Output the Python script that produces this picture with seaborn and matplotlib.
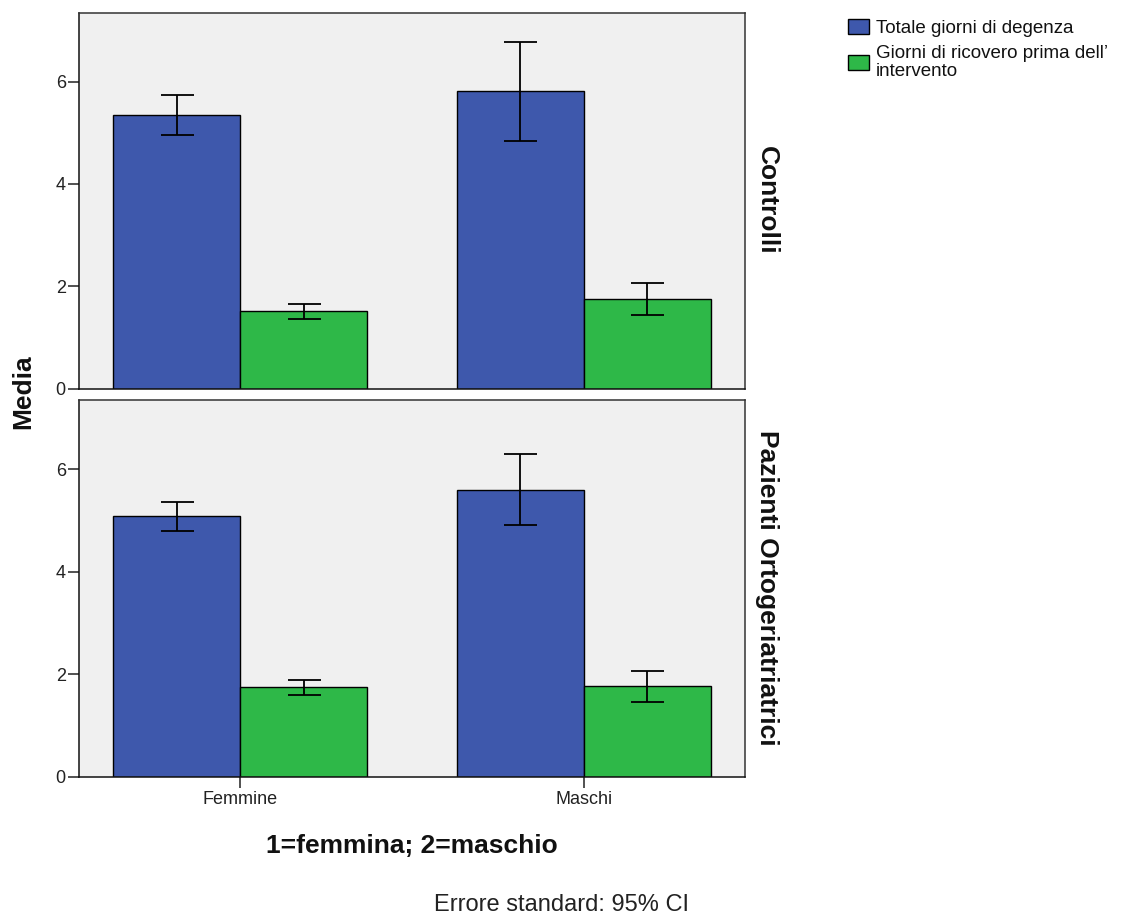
import numpy as np
import pandas as pd
import matplotlib
matplotlib.use("Agg")
import matplotlib.pyplot as plt
from matplotlib.patches import Patch
import seaborn as sns

# ---- data -------------------------------------------------------------
groups = ["Controlli", "Pazienti Ortogeriatriatrici"]
sexes = ["Femmine", "Maschi"]
measures = ["Totale giorni di degenza",
            "Giorni di ricovero prima dell\u2019\nintervento"]

# means per group, ordered as sexes
ctrl_total = [5.35, 5.82]
ctrl_pre = [1.52, 1.76]
orto_total = [5.08, 5.59]
orto_pre = [1.75, 1.76]

# 95% confidence interval bounds
ctrl_total_lo = [4.95, 4.85]
ctrl_total_hi = [5.74, 6.78]
ctrl_pre_lo = [1.36, 1.44]
ctrl_pre_hi = [1.65, 2.06]
orto_total_lo = [4.79, 4.90]
orto_total_hi = [5.36, 6.29]
orto_pre_lo = [1.59, 1.45]
orto_pre_hi = [1.88, 2.06]

y_ticks = [0, 2, 4, 6]

rows = []
series = {
    groups[0]: [(measures[0], ctrl_total, ctrl_total_lo, ctrl_total_hi),
                (measures[1], ctrl_pre, ctrl_pre_lo, ctrl_pre_hi)],
    groups[1]: [(measures[0], orto_total, orto_total_lo, orto_total_hi),
                (measures[1], orto_pre, orto_pre_lo, orto_pre_hi)],
}
for g, lst in series.items():
    for m, vals, lo, hi in lst:
        for s, v, l, h in zip(sexes, vals, lo, hi):
            rows.append(dict(gruppo=g, sesso=s, misura=m, media=v, lo=l, hi=h))
df = pd.DataFrame(rows)

# ---- style ------------------------------------------------------------
sns.set_theme(style="white")
plt.rcParams["font.family"] = ["Liberation Sans", "DejaVu Sans"]

palette = {measures[0]: "#3E58AC", measures[1]: "#2EB848"}
W, H = 1129, 914
fig = plt.figure(figsize=(W / 100, H / 100), dpi=100)
fig.patch.set_facecolor("white")

left = 79 / W
width = (745 - 79) / W
panels = [
    (1 - 388.5 / H, (388.5 - 12.7) / H),
    (1 - 776.5 / H, (776.5 - 400) / H),
]

for i, (g, (b, h)) in enumerate(zip(groups, panels)):
    ax = fig.add_axes([left, b, width, h])
    sub = df[df["gruppo"] == g]
    sns.barplot(data=sub, x="sesso", y="media", hue="misura",
                order=sexes, hue_order=measures, palette=palette,
                errorbar=None, width=0.74, gap=0, dodge=True,
                edgecolor="black", linewidth=1.0, saturation=1,
                legend=False, ax=ax)

    # confidence interval whiskers at each bar centre
    bars = [p for p in ax.patches if p.get_height() > 0]
    for p in bars:
        xc = p.get_x() + p.get_width() / 2
        val = p.get_height()
        rec = sub.iloc[(sub["media"] - val).abs().argsort().iloc[0]]
        ax.errorbar(xc, rec["media"],
                    yerr=[[rec["media"] - rec["lo"]], [rec["hi"] - rec["media"]]],
                    fmt="none", ecolor="black", elinewidth=1.3,
                    capsize=16.5 * 72 / 100, capthick=1.3, zorder=5)

    ax.set_facecolor("#F0F0F0")
    ax.set_xlim(-0.47, 1.47)
    ax.set_ylim(0, 7.35)
    ax.set_yticks(y_ticks)
    ax.set_xlabel("")
    ax.set_ylabel("")
    for sp in ax.spines.values():
        sp.set_visible(True)
        sp.set_color("#333333")
        sp.set_linewidth(1.1)
    ax.spines["left"].set_color("#111111")
    ax.spines["bottom"].set_color("#111111")
    ax.tick_params(axis="y", left=True, length=8, width=1.1, pad=1.5,
                   labelsize=13, colors="#222222")
    if i == 0:
        ax.tick_params(axis="x", bottom=False, labelbottom=False)
    else:
        ax.tick_params(axis="x", bottom=True, length=8, width=1.1, pad=2.5,
                       labelsize=13, colors="#222222")

    # panel label on the right side
    yc = b + h / 2
    fig.text(767 / W, yc, g, rotation=-90, ha="center", va="center",
             fontsize=19, fontweight="bold", color="#111111")

fig.text(23 / W, 1 - 391.5 / H, "Media", rotation=90, ha="center",
         va="center", fontsize=19, fontweight="bold", color="#111111")
fig.text(411.5 / W, 1 - 853 / H, "1=femmina; 2=maschio", ha="center",
         va="baseline", fontsize=19, fontweight="bold", color="#111111")
fig.text(561 / W, 1 - 911 / H, "Errore standard: 95% CI", ha="center",
         va="baseline", fontsize=17, color="#222222")

handles = [Patch(facecolor=palette[m], edgecolor="black", linewidth=1.0)
           for m in measures]
leg = fig.legend(handles, measures, loc="upper left",
                 bbox_to_anchor=(848 / W, 1 - 19 / H), frameon=False,
                 fontsize=13.5, handlelength=1.1, handleheight=0.85,
                 handletextpad=0.4, labelspacing=0.42, borderpad=0,
                 borderaxespad=0)
for t in leg.get_texts():
    t.set_linespacing(1.1)
    t.set_color("#111111")

fig.savefig("out.png", dpi=100, facecolor="white")
